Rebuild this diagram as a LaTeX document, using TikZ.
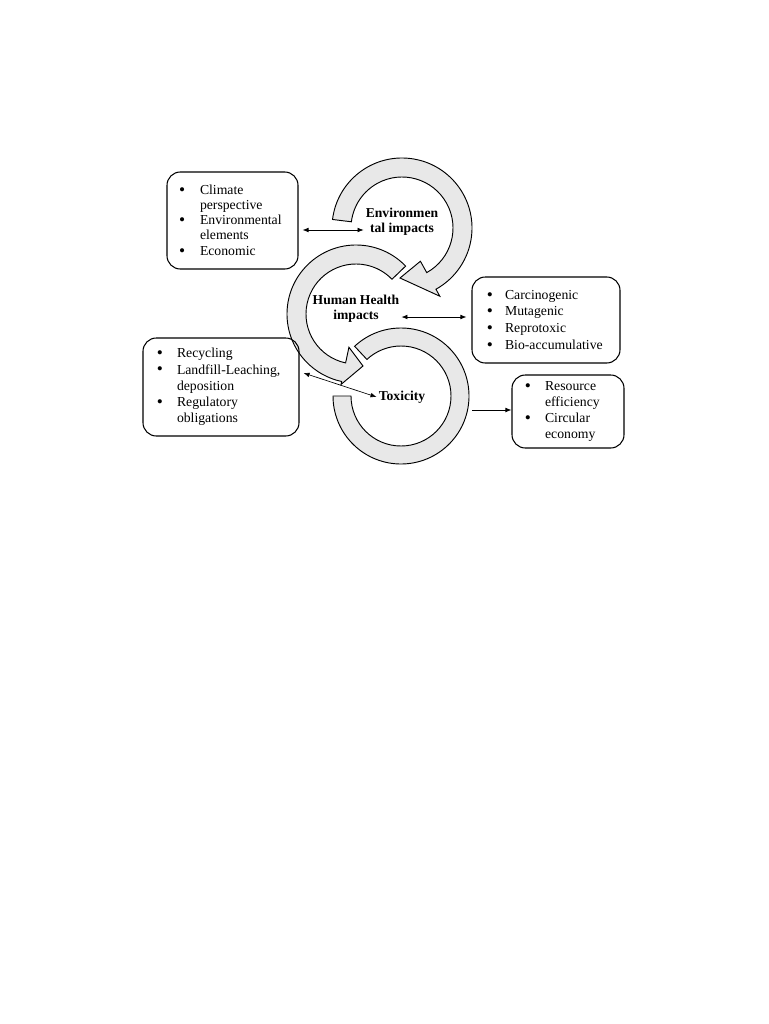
\documentclass[tikz,border=0pt]{standalone}
\usepackage{fontspec}
\setmainfont{Liberation Serif}
\usetikzlibrary{arrows.meta,calc}
\newcommand\bl[1]{\makebox[#1][l]{\hspace{-0.6pt}\raisebox{-0.7pt}{\fontsize{13}{13}\selectfont\textbullet}}}
\begin{document}
\begin{tikzpicture}[x=0.75pt,y=-0.75pt,
  ring/.style={draw=black, line width=0.7pt, fill=black!9},
  box/.style={draw=black, line width=0.8pt, rounded corners=10pt, align=left, inner ysep=0pt},
  lbl/.style={font=\fontsize{10.2}{11.5}\selectfont\bfseries, align=center, inner sep=1.5pt},
  dbl/.style={{Latex[length=4.5pt,width=3.5pt]}-{Latex[length=4.5pt,width=3.5pt]}, line width=0.5pt},
  sgl/.style={-{Latex[length=4.5pt,width=3.5pt]}, line width=0.5pt}]
\fill[white] (0,0) rectangle (768,1024);
\useasboundingbox (0,0) rectangle (768,1024);

% rings
\draw[ring,shift={(401,396)}] (-133:68) arc[start angle=-133, end angle=180, radius=68]
  -- (180:50) arc[start angle=180, end angle=-133, radius=50] -- cycle;
\draw[ring,shift={(356,314)}] (316:69) arc[start angle=316, end angle=102, radius=69]
  -- (102:72) -- (7,52) -- (102:34) -- (102:50) arc[start angle=102, end angle=316, radius=50] -- cycle;
\draw[ring,shift={(402,228)}] (187:70) arc[start angle=187, end angle=421, radius=70]
  -- (421:78) -- (-2,50) -- (421:38) -- (421:51) arc[start angle=421, end angle=187, radius=51] -- cycle;

% labels
\node[lbl] (env) at (402,222) {Environmen\\tal impacts};
\node[lbl] (hh) at (356,309) {Human Health\\impacts};
\node[lbl] (tox) at (402,397) {Toxicity};

% boxes
\node[box, font=\fontsize{10.3}{11.4}\selectfont, minimum width=98.25pt, minimum height=72.75pt,
  text width=78.75pt, inner xsep=9.75pt] (box1) at (232.5,220.5)
  {\bl{15pt}Climate\\\hspace*{15pt}perspective\\\bl{15pt}Environmental\\\hspace*{15pt}elements\\\bl{15pt}Economic};
\node[box, font=\fontsize{10.3}{12.5}\selectfont, minimum width=111pt, minimum height=64.5pt,
  text width=87.4pt, inner xsep=11.8pt] (box2) at (546,320)
  {\bl{13pt}Carcinogenic\\\bl{13pt}Mutagenic\\\bl{13pt}Reprotoxic\\\bl{13pt}Bio-accumulative};
\node[box, font=\fontsize{10.3}{12.2}\selectfont, minimum width=117pt, minimum height=73.5pt,
  text width=95pt, inner xsep=11pt] (box3) at (221,387)
  {\bl{14.5pt}Recycling\\\bl{14.5pt}Landfill-Leaching,\\\hspace*{14.5pt}deposition\\\bl{14.5pt}Regulatory\\\hspace*{14.5pt}obligations};
\node[box, font=\fontsize{10.3}{11.8}\selectfont, minimum width=84pt, minimum height=54.75pt,
  text width=63.4pt, inner xsep=10.3pt] (box4) at (568,411.5)
  {\bl{14.5pt}Resource\\\hspace*{14.5pt}efficiency\\\bl{14.5pt}Circular\\\hspace*{14.5pt}economy};

% connectors
\draw[dbl] ($(box1.east)+(4,9.5)$) -- ($(box1.east)+(65,9.5)$);
\draw[dbl] ($(box2.west)+(-70,-3)$) -- ($(box2.west)+(-5,-3)$);
\draw[dbl] ($(box3.east)+(4,-14)$) -- (tox.west);
\draw[sgl] ($(box4.west)+(-39,-1.5)$) -- ($(box4.west)+(0,-1.5)$);
\end{tikzpicture}
\end{document}
